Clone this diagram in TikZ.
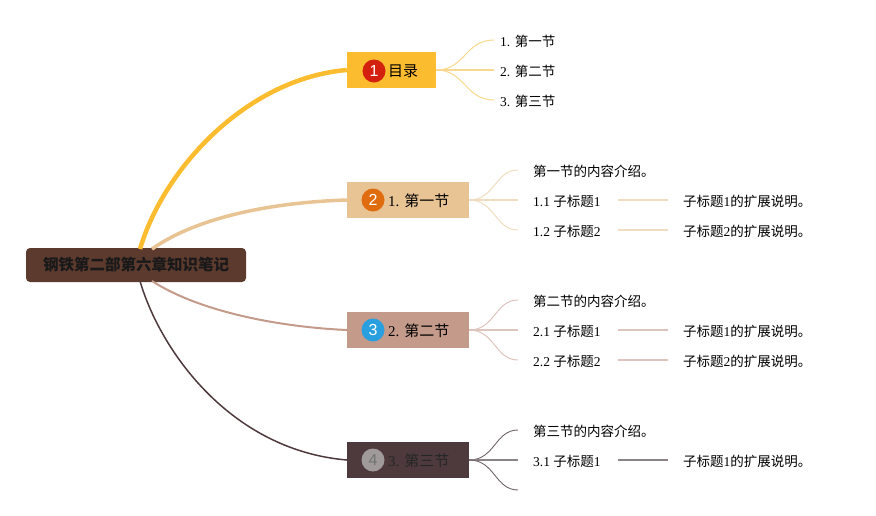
\documentclass[tikz,border=0pt]{standalone}
\usepackage{fontspec}
\setmainfont{Liberation Serif}
\newfontfamily\cjk{Noto Sans CJK SC}
\newfontfamily\numfont{Liberation Sans}
\newcommand{\C}[1]{{\cjk #1}}
\definecolor{rootbg}{HTML}{5C3A2E}
\definecolor{cA}{HTML}{FBBC2F}
\definecolor{cB}{HTML}{E8C394}
\definecolor{cC}{HTML}{C49A8A}
\definecolor{cD}{HTML}{4E3A3D}
\definecolor{lA}{HTML}{F8D88C}
\definecolor{lB}{HTML}{F0DCC0}
\definecolor{lC}{HTML}{DDC5BD}
\definecolor{lD}{HTML}{6E6468}
\definecolor{nA}{HTML}{D4200F}
\definecolor{nB}{HTML}{E06C10}
\definecolor{nC}{HTML}{2A9FE0}
\definecolor{nD}{HTML}{A09A9A}
\tikzset{
  rootbox/.style={fill=rootbg, rounded corners=4pt, minimum width=220pt, minimum height=34pt, inner sep=0pt, font=\cjk\bfseries\fontsize{15.5}{18}\selectfont, text=black!90},
  brbox/.style={minimum height=36pt, inner sep=0pt},
  numc/.style={circle, minimum size=23pt, inner sep=0pt, text=white, font=\numfont\fontsize{16}{18}\selectfont},
  brtext/.style={anchor=west, inner sep=0pt, font=\fontsize{15}{18}\selectfont},
  leaf/.style={anchor=west, inner sep=0pt, font=\fontsize{13.5}{16}\selectfont},
}
\begin{document}
\begin{tikzpicture}[x=1pt,y=-1pt]
\useasboundingbox (0,0) rectangle (876,515);
% root
\node[rootbox] (root) at (136,265) {钢铁第二部第六章知识笔记};
\coordinate (r1) at (140,249);
\coordinate (r2) at (152,249);
\coordinate (r3) at (152,281);
\coordinate (r4) at (140,281);
% branch boxes
\node[brbox, fill=cA, minimum width=89pt] (b1) at (391.5,70) {};
\node[brbox, fill=cB, minimum width=122pt] (b2) at (408,200) {};
\node[brbox, fill=cC, minimum width=122pt] (b3) at (408,330) {};
\node[brbox, fill=cD, minimum width=122pt] (b4) at (408,460) {};
\node[numc, fill=nA] (n1) at (374,71) {1};
\node[numc, fill=nB] (n2) at (373,200) {2};
\node[numc, fill=nC] (n3) at (373,330) {3};
\node[numc, fill=nD, text=black!55] (n4) at (373,460) {4};
\node[brtext] (t1) at (388,71) {\C{目录}};
\node[brtext] (t2) at (388,201) {1. \C{第一节}};
\node[brtext] (t3) at (388,331) {2. \C{第二节}};
\node[brtext, text=black!85] (t4) at (388,461) {3. \C{第三节}};
% main connectors
\draw[cA, line width=4.5pt] (r1) .. controls (165,165) and (250,78) .. (b1.west);
\draw[cB, line width=3.5pt] (r2) .. controls (200,215) and (280,202) .. (b2.west);
\draw[cC, line width=2pt] (r3) .. controls (200,312) and (280,327) .. (b3.west);
\draw[cD, line width=1.5pt] (r4) .. controls (160,350) and (230,450) .. (b4.west);
% branch 1 leaves
\node[leaf] (a1) at (500,41) {1. \C{第一节}};
\node[leaf] (a2) at (500,71) {2. \C{第二节}};
\node[leaf] (a3) at (500,101) {3. \C{第三节}};
\coordinate (a1w) at (494,40);
\coordinate (a2w) at (494,70);
\coordinate (a3w) at (494,100);
\draw[lA, line width=1pt] (b1.east) .. controls (465,70) and (465,40) .. (a1w);
\draw[lA, line width=1.5pt] (b1.east) -- (a2w);
\draw[lA, line width=1pt] (b1.east) .. controls (465,70) and (465,100) .. (a3w);
% branch 2 leaves
\node[leaf] (c1) at (533,171) {\C{第一节的内容介绍。}};
\node[leaf] (c2) at (533,201) {1.1 \C{子标题}1};
\node[leaf] (c3) at (533,231) {1.2 \C{子标题}2};
\coordinate (c1w) at (518,170);
\coordinate (c2w) at (518,200);
\coordinate (c3w) at (518,230);
\draw[lB, line width=1pt] (b2.east) .. controls (495,200) and (495,170) .. (c1w);
\draw[lB, line width=1.5pt] (b2.east) -- (c2w);
\draw[lB, line width=1pt] (b2.east) .. controls (495,200) and (495,230) .. (c3w);
\node[leaf] (d1) at (683,201) {\C{子标题}1\C{的扩展说明。}};
\node[leaf] (d2) at (683,231) {\C{子标题}2\C{的扩展说明。}};
\coordinate (c2e) at (618,200);
\coordinate (c3e) at (618,230);
\coordinate (d1w) at (668,200);
\coordinate (d2w) at (668,230);
\draw[lB, line width=1.5pt] (c2e) -- (d1w);
\draw[lB, line width=1.5pt] (c3e) -- (d2w);
% branch 3 leaves
\node[leaf] (e1) at (533,301) {\C{第二节的内容介绍。}};
\node[leaf] (e2) at (533,331) {2.1 \C{子标题}1};
\node[leaf] (e3) at (533,361) {2.2 \C{子标题}2};
\coordinate (e1w) at (518,300);
\coordinate (e2w) at (518,330);
\coordinate (e3w) at (518,360);
\draw[lC, line width=1pt] (b3.east) .. controls (495,330) and (495,300) .. (e1w);
\draw[lC, line width=1.5pt] (b3.east) -- (e2w);
\draw[lC, line width=1pt] (b3.east) .. controls (495,330) and (495,360) .. (e3w);
\node[leaf] (f1) at (683,331) {\C{子标题}1\C{的扩展说明。}};
\node[leaf] (f2) at (683,361) {\C{子标题}2\C{的扩展说明。}};
\coordinate (e2e) at (618,330);
\coordinate (e3e) at (618,360);
\coordinate (f1w) at (668,330);
\coordinate (f2w) at (668,360);
\draw[lC, line width=1.5pt] (e2e) -- (f1w);
\draw[lC, line width=1.5pt] (e3e) -- (f2w);
% branch 4 leaves
\node[leaf] (g1) at (533,431) {\C{第三节的内容介绍。}};
\node[leaf] (g2) at (533,461) {3.1 \C{子标题}1};
\coordinate (g1w) at (518,430);
\coordinate (g2w) at (518,460);
\coordinate (g3w) at (518,490);
\draw[lD, line width=0.9pt] (b4.east) .. controls (495,460) and (495,430) .. (g1w);
\draw[lD!80, line width=1.5pt] (b4.east) -- (g2w);
\draw[lD, line width=0.9pt] (b4.east) .. controls (495,460) and (495,490) .. (g3w);
\node[leaf] (h1) at (683,461) {\C{子标题}1\C{的扩展说明。}};
\coordinate (g2e) at (618,460);
\coordinate (h1w) at (668,460);
\draw[lD!80, line width=1.5pt] (g2e) -- (h1w);
\end{tikzpicture}
\end{document}
